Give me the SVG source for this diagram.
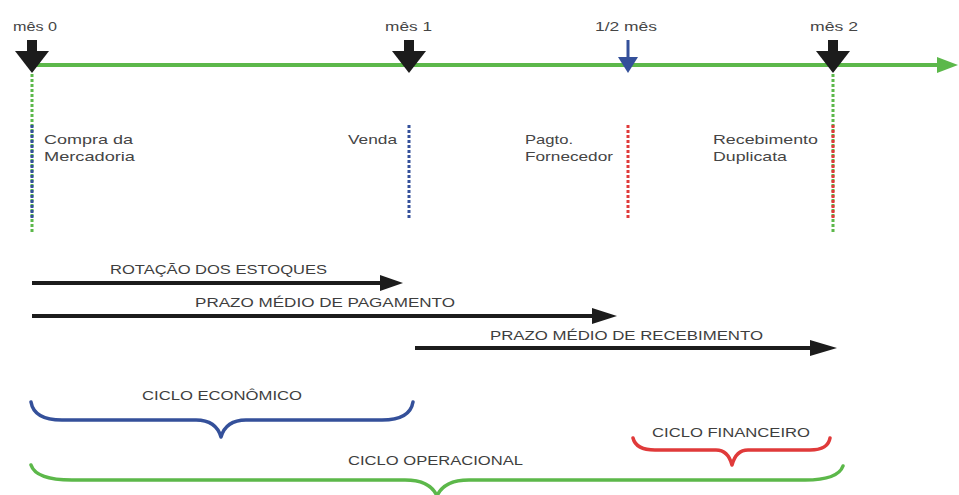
<svg xmlns="http://www.w3.org/2000/svg" width="959" height="495" viewBox="0 0 959 495">
<style>
  .lbl{font-family:"Liberation Sans",Arial,sans-serif;font-size:13px;fill:#454545}
  .cap{font-family:"Liberation Sans",Arial,sans-serif;font-size:12px;fill:#3e3e3e}
  .blk{fill:#1c1c1c}
  .dot{stroke-width:3;stroke-dasharray:3,2;fill:none}
  .g{stroke:#5cb84a}
  .b{stroke:#34509a}
  .r{stroke:#e03a3a}
  .harr{stroke:#1c1c1c;stroke-width:4;fill:none}
  .brace{fill:none;stroke-width:3.5;stroke-linecap:round;stroke-linejoin:round}
</style>
<rect width="959" height="495" fill="#ffffff"/>

<g id="timeline">
  <line x1="32" y1="65" x2="940" y2="65" stroke="#5cb84a" stroke-width="4"/>
  <polygon points="937,57 958,65 937,73" fill="#5cb84a"/>
</g>

<g id="mes0">
  <text class="lbl" x="13" y="31" textLength="44" lengthAdjust="spacingAndGlyphs">mês 0</text>
  <rect class="blk" x="27" y="40" width="10" height="12"/>
  <polygon class="blk" points="15,51 49,51 32,73"/>
</g>
<g id="mes1">
  <text class="lbl" x="385" y="31" textLength="47" lengthAdjust="spacingAndGlyphs">mês 1</text>
  <rect class="blk" x="404" y="40" width="10" height="12"/>
  <polygon class="blk" points="392,51 426,51 409,73"/>
</g>
<g id="meio-mes">
  <text class="lbl" x="595" y="31" textLength="62" lengthAdjust="spacingAndGlyphs">1/2 mês</text>
  <line x1="628" y1="40" x2="628" y2="60" stroke="#34509a" stroke-width="3"/>
  <polygon points="618,57 638,57 628,73" fill="#34509a"/>
</g>
<g id="mes2">
  <text class="lbl" x="810" y="31" textLength="48" lengthAdjust="spacingAndGlyphs">mês 2</text>
  <rect class="blk" x="828" y="40" width="10" height="12"/>
  <polygon class="blk" points="816,51 850,51 833,73"/>
</g>

<g id="compra">
  <line class="dot g" x1="32" y1="74" x2="32" y2="234"/>
  <line class="dot b" x1="32" y1="125" x2="32" y2="218"/>
  <text class="lbl" x="44" y="144" textLength="89" lengthAdjust="spacingAndGlyphs">Compra da</text>
  <text class="lbl" x="44" y="161" textLength="91" lengthAdjust="spacingAndGlyphs">Mercadoria</text>
</g>
<g id="venda">
  <line class="dot b" x1="409" y1="125" x2="409" y2="218"/>
  <text class="lbl" x="348" y="144" textLength="49" lengthAdjust="spacingAndGlyphs">Venda</text>
</g>
<g id="pagto">
  <line class="dot r" x1="628" y1="125" x2="628" y2="218"/>
  <text class="lbl" x="525" y="144" textLength="48" lengthAdjust="spacingAndGlyphs">Pagto.</text>
  <text class="lbl" x="525" y="161" textLength="88" lengthAdjust="spacingAndGlyphs">Fornecedor</text>
</g>
<g id="recebimento">
  <line class="dot g" x1="833" y1="74" x2="833" y2="234"/>
  <line class="dot r" x1="833" y1="125" x2="833" y2="218"/>
  <text class="lbl" x="713" y="144" textLength="105" lengthAdjust="spacingAndGlyphs">Recebimento</text>
  <text class="lbl" x="713" y="161" textLength="74" lengthAdjust="spacingAndGlyphs">Duplicata</text>
</g>

<g id="connectors">
  <line class="harr" x1="32" y1="283" x2="384" y2="283"/>
  <polygon class="blk" points="380,275 403,283 380,291"/>
  <line class="harr" x1="32" y1="316" x2="596" y2="316"/>
  <polygon class="blk" points="592,308 617,316 592,324"/>
  <line class="harr" x1="415" y1="348" x2="814" y2="348"/>
  <polygon class="blk" points="810,340 837,348 810,356"/>
</g>

<g id="rotacao">
  <text class="cap" x="110" y="274" textLength="217" lengthAdjust="spacingAndGlyphs">ROTAÇÃO DOS ESTOQUES</text>
</g>
<g id="pmp">
  <text class="cap" x="195" y="307" textLength="260" lengthAdjust="spacingAndGlyphs">PRAZO MÉDIO DE PAGAMENTO</text>
</g>
<g id="pmr">
  <text class="cap" x="490" y="340" textLength="273" lengthAdjust="spacingAndGlyphs">PRAZO MÉDIO DE RECEBIMENTO</text>
</g>

<g id="ciclo-economico">
  <text class="cap" x="142" y="400" textLength="160" lengthAdjust="spacingAndGlyphs">CICLO ECONÔMICO</text>
  <path class="brace b" d="M31,402 Q34,420 62,420 L196,420 Q216,420 221,437 Q226,420 246,420 L382,420 Q410,420 413,402"/>
</g>
<g id="ciclo-financeiro">
  <text class="cap" x="652" y="437" textLength="158" lengthAdjust="spacingAndGlyphs">CICLO FINANCEIRO</text>
  <path class="brace r" d="M633,438 Q636,450 655,450 L716,450 Q728,450 732,465 Q736,450 748,450 L810,450 Q828,450 830,438"/>
</g>
<g id="ciclo-operacional">
  <text class="cap" x="348" y="465" textLength="175" lengthAdjust="spacingAndGlyphs">CICLO OPERACIONAL</text>
  <path class="brace g" d="M31,465 Q36,480 72,480 L405,480 Q430,480 437,496 Q444,480 469,480 L805,480 Q838,480 843,466"/>
</g>
</svg>
